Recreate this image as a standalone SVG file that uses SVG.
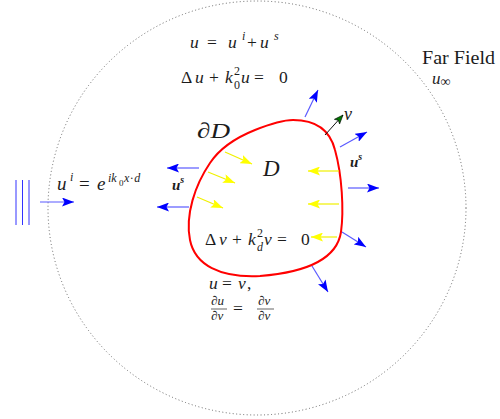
<svg xmlns="http://www.w3.org/2000/svg" width="500" height="419" viewBox="0 0 500 419">
<style>
text{font-family:"Liberation Serif","DejaVu Serif",serif;fill:#1c1c1c}
.i{font-style:italic}
.m{font-size:17.5px}
.sup{font-size:12px}
.fr{font-size:13px}
.sm{font-size:9px}
.bl{stroke:#5a5aff;stroke-width:1.2;fill:none}
.ye{stroke:#f0f000;stroke-width:1.2;fill:none}
</style>
<defs>
<marker id="ab" viewBox="0 0 12 9" refX="12" refY="4.5" markerWidth="12" markerHeight="9" markerUnits="userSpaceOnUse" orient="auto"><path d="M0,0 L12,4.5 L0,9 L2.5,4.5 Z" fill="#0000ff"/></marker>
<marker id="ay" viewBox="0 0 12 9" refX="12" refY="4.5" markerWidth="12" markerHeight="9" markerUnits="userSpaceOnUse" orient="auto"><path d="M0,0 L12,4.5 L0,9 L2.5,4.5 Z" fill="#ffff00"/></marker>
<marker id="ag" viewBox="0 0 10 8" refX="9.5" refY="4" markerWidth="10" markerHeight="8" markerUnits="userSpaceOnUse" orient="auto"><path d="M0.5,0.5 L9.5,4 L0.5,7.5 L2.5,4 Z" fill="#007a00" stroke="#000" stroke-width="0.6"/></marker>
</defs>
<rect width="500" height="419" fill="#fff"/>
<g id="far-field">
<ellipse cx="257" cy="208" rx="209" ry="207" fill="none" stroke="#666" stroke-width="1" stroke-dasharray="1 2.5"/>
<text x="422" y="64" font-size="18.5" textLength="73" lengthAdjust="spacingAndGlyphs">Far Field</text>
<text x="432" y="84" class="i" font-size="17">u<tspan font-style="normal" font-size="14" dy="2">∞</tspan></text>
</g>
<g id="incident-wave">
<line x1="16" y1="180" x2="16" y2="225" stroke="#3333ff" stroke-width="1"/>
<line x1="22.5" y1="180" x2="22.5" y2="225" stroke="#3333ff" stroke-width="1"/>
<line x1="29" y1="180" x2="29" y2="225" stroke="#3333ff" stroke-width="1"/>
<text x="57" y="190" class="i" font-size="19">u</text>
<text x="70" y="181" class="i sup">i</text>
<text x="79" y="190" font-size="19">=</text>
<text x="97" y="190" class="i" font-size="19">e</text>
<text x="108" y="182" class="i sup">ik</text>
<text x="119" y="186" class="sm">0</text>
<text x="124" y="182" class="i sup">x<tspan font-style="normal" dx="0.5">·</tspan><tspan dx="0.5">d</tspan></text>
</g>
<g id="obstacle">
<path d="M293 120 C315 120 330 130 335 150 C342 175 344 210 341 232 C337 258 310 272 260 276 C220 278 195 265 190 240 C185 215 195 185 210 163 C222 145 240 136 255 130 C270 124 282 120 293 120 Z" fill="none" stroke="#ff0000" stroke-width="2"/>
<text x="197" y="138" class="i" font-size="22" textLength="33" lengthAdjust="spacingAndGlyphs">∂D</text>
<text x="263" y="176" class="i" font-size="23">D</text>
</g>
<g id="equations">
<text y="48" class="m"><tspan x="190" class="i">u</tspan><tspan x="207">=</tspan><tspan x="228" class="i">u</tspan></text>
<text x="242" y="40" class="i sup">i</text>
<text x="247" y="48" class="m">+</text>
<text x="260" y="48" class="i m">u</text>
<text x="274" y="40" class="i sup">s</text>
<text y="83" class="m"><tspan x="181">Δ</tspan><tspan x="195" class="i">u</tspan><tspan x="209">+</tspan><tspan x="225" class="i">k</tspan></text>
<text x="234" y="74.5" class="sup">2</text>
<text x="234" y="89" class="sup">0</text>
<text y="83" class="m"><tspan x="241" class="i">u</tspan><tspan x="254">=</tspan><tspan x="279">0</tspan></text>
<text y="245" class="m"><tspan x="205">Δ</tspan><tspan x="219" class="i">v</tspan><tspan x="232">+</tspan><tspan x="248" class="i">k</tspan></text>
<text x="257" y="236.5" class="sup">2</text>
<text x="257" y="251" class="i sup">d</text>
<text y="245" class="m"><tspan x="264" class="i">v</tspan><tspan x="277">=</tspan><tspan x="301">0</tspan></text>
<text y="289" class="m"><tspan x="209" class="i">u</tspan><tspan x="222">=</tspan><tspan x="238" class="i">v</tspan><tspan x="247">,</tspan></text>
<text x="211" y="305" class="i fr">∂u</text>
<line x1="211" y1="309" x2="227" y2="309" stroke="#222" stroke-width="0.7"/>
<text x="211" y="320" class="i fr">∂ν</text>
<text x="233" y="314" class="m">=</text>
<text x="258" y="305" class="i fr">∂v</text>
<line x1="257" y1="309" x2="274" y2="309" stroke="#222" stroke-width="0.7"/>
<text x="258" y="320" class="i fr">∂ν</text>
<text x="172" y="190" class="i" font-size="15" font-weight="bold">u<tspan font-size="10" dy="-7">s</tspan></text>
<text x="350" y="167" class="i" font-size="15" font-weight="bold">u<tspan font-size="10" dy="-7">s</tspan></text>
<text x="344" y="120" class="i" font-size="18">ν</text>
</g>
<g id="connectors">
<line class="bl" x1="40" y1="202" x2="74" y2="202" marker-end="url(#ab)"/>
<line class="bl" x1="305" y1="117" x2="318" y2="90" marker-end="url(#ab)"/>
<line class="bl" x1="340" y1="147" x2="367" y2="132" marker-end="url(#ab)"/>
<line class="bl" x1="348" y1="188" x2="379" y2="188" marker-end="url(#ab)"/>
<line class="bl" x1="342" y1="232" x2="366" y2="247" marker-end="url(#ab)"/>
<line class="bl" x1="312" y1="266" x2="328" y2="292" marker-end="url(#ab)"/>
<line class="bl" x1="199" y1="168" x2="167" y2="168" marker-end="url(#ab)"/>
<line class="bl" x1="189" y1="207" x2="157" y2="207" marker-end="url(#ab)"/>
<line class="ye" x1="225" y1="152" x2="252" y2="164" marker-end="url(#ay)"/>
<line class="ye" x1="208" y1="172" x2="235" y2="183" marker-end="url(#ay)"/>
<line class="ye" x1="197" y1="197" x2="223" y2="208" marker-end="url(#ay)"/>
<line class="ye" x1="339" y1="171" x2="308" y2="171" marker-end="url(#ay)"/>
<line class="ye" x1="339" y1="204" x2="308" y2="204" marker-end="url(#ay)"/>
<line class="ye" x1="337" y1="237" x2="311" y2="237" marker-end="url(#ay)"/>
<line x1="325" y1="135" x2="343" y2="115" stroke="#111" stroke-width="1" marker-end="url(#ag)"/>
</g>
</svg>
